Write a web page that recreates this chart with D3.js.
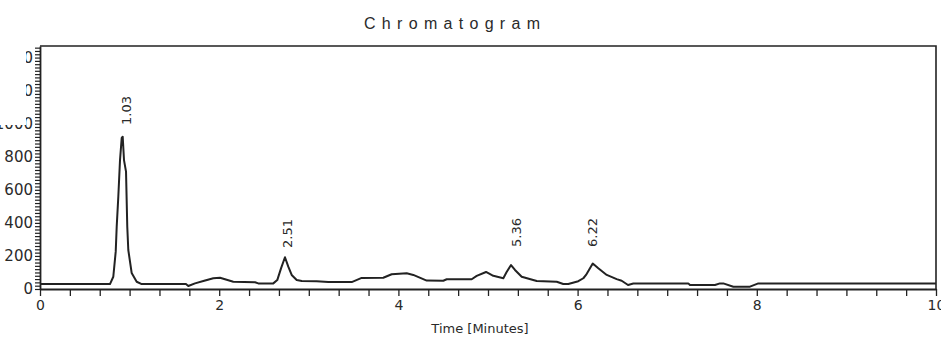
<!DOCTYPE html>
<html>
<head>
<meta charset="utf-8">
<script src="https://cdn.jsdelivr.net/npm/d3@7/dist/d3.min.js"></script>
<style>
  html, body { margin: 0; padding: 0; background: #fff; }
  svg { display: block; }
</style>
</head>
<body>
<svg id="chart" width="941" height="337"></svg>
<script>
// ---- data ----
const times = [0.000,0.725,0.781,0.818,0.845,0.856,0.874,0.893,0.912,0.923,0.9375,0.960,0.974,0.9855,1.023,1.079,1.135,
  1.629,1.655,1.730,1.823,1.934,2.009,2.065,2.157,2.400,2.436,2.604,2.648,2.690,2.734,2.771,2.809,2.865,2.921,3.088,3.218,
  3.479,3.590,3.831,3.925,4.093,4.166,4.316,4.501,4.539,4.818,4.874,4.978,5.059,5.171,5.208,5.257,5.301,5.376,5.544,5.767,
  5.840,5.896,6.008,6.064,6.094,6.169,6.231,6.325,6.436,6.492,6.563,6.622,7.235,7.254,7.533,7.589,7.626,7.738,7.924,8.017,10.000];
const intensity = [30,30,30,74,226,377,558,780,914,921,780,710,377,236,97,44,30,
  30,18,34,48,65,68,59,44,41,34,34,54,125,192,135,85,54,48,47,42,
  42,67,68,89,95,85,51,50,59,59,79,103,80,65,103,145,115,74,48,44,
  30,30,47,65,85,154,125,85,60,50,24,33,34,24,24,34,34,14,14,34,34];
const peakLabels = ["1.03","2.51","5.36","6.22"];
const peakLabelTimes = [0.96, 2.757, 5.313, 6.166];
const peakLabelValues = [992, 248, 254, 254];
const xTickValues = d3.range(0, 31).map(i => i / 3);
const xTickLabels = ["0","2","4","6","8","10"];
const yTickValues = d3.range(0, 1461, 20);
const yTickLabels = ["0","200","400","600","800","1000","1200","1400"];
const titleText = "Chromatogram";
const xTitle = "Time [Minutes]";

// ---- layout ----
const svg = d3.select("#chart");
const mLeft = 40, mRight = 936, mTop = 46, mBottom = 289;
const x = d3.scaleLinear().domain([0, 10]).range([mLeft, mRight]);
const y = d3.scaleLinear().domain([0, 1470]).range([mBottom, mTop]);
const ink = "#222";
const fontTicks = "'DejaVu Sans', sans-serif";

// frame (top + right)
svg.append("path")
  .attr("d", `M${mLeft},${mTop}H${mRight}V${mBottom}`)
  .attr("fill", "none").attr("stroke", ink).attr("stroke-width", 1.6);

// x axis
const xAxis = d3.axisBottom(x)
  .tickValues(xTickValues)
  .tickSize(7)
  .tickSizeOuter(0)
  .tickFormat((d, i) => (i % 6 === 0 ? xTickLabels[i / 6] : ""));
const gx = svg.append("g").attr("transform", `translate(0,${mBottom})`).call(xAxis);
gx.select(".domain").attr("stroke", ink).attr("stroke-width", 1.8);
gx.selectAll(".tick line").attr("stroke", ink).attr("stroke-width", 1.3);
gx.selectAll(".tick text").attr("font-family", fontTicks).attr("font-size", 14)
  .attr("fill", "#2a2a2a").attr("y", 11);

// y axis
const clip = svg.append("defs").append("clipPath").attr("id", "ylabClip");
clip.append("rect").attr("x", -100).attr("y", 125).attr("width", 300).attr("height", 300);
clip.append("rect").attr("x", 26).attr("y", 0).attr("width", 200).attr("height", 400);

const yAxis = d3.axisLeft(y)
  .tickValues(yTickValues)
  .tickSize(5)
  .tickSizeOuter(0)
  .tickFormat(d => (d % 200 === 0 ? yTickLabels[d / 200] : ""));
const gy = svg.append("g").attr("transform", `translate(${mLeft},0)`).call(yAxis);
gy.select(".domain").attr("stroke", ink).attr("stroke-width", 1.8);
gy.selectAll(".tick line").attr("stroke", ink).attr("stroke-width", 1.2);
gy.selectAll(".tick text")
  .attr("font-family", fontTicks).attr("font-size", 15)
  .attr("text-anchor", "end")
  .attr("fill", "#2a2a2a").attr("x", -7);
// the reference image is cropped: upper labels only partly visible
const labs = gy.selectAll(".tick text").nodes();
const labLayer = svg.append("g").attr("clip-path", "url(#ylabClip)");
labs.forEach(n => {
  const t = n.parentNode.getAttribute("transform");
  const g = labLayer.append("g").attr("transform", `translate(${mLeft},0) ${t}`);
  g.node().appendChild(n);
});

// trace
const pts = times.map((t, i) => [t, intensity[i]]);
svg.append("path")
  .datum(pts)
  .attr("fill", "none")
  .attr("stroke", ink)
  .attr("stroke-width", 2)
  .attr("stroke-linejoin", "round")
  .attr("d", d3.line().x(d => x(d[0])).y(d => y(d[1])));

// peak labels
peakLabels.forEach((lab, i) => {
  svg.append("text")
    .attr("transform", `translate(${x(peakLabelTimes[i])},${y(peakLabelValues[i])}) rotate(-90)`)
    .attr("dy", "0.36em")
    .attr("font-family", fontTicks)
    .attr("font-size", 13)
    .attr("fill", "#2a2a2a")
    .text(lab);
});

// title
svg.append("text")
  .attr("x", 364).attr("y", 29)
  .attr("font-family", "'Liberation Sans', Arial, sans-serif")
  .attr("font-size", 16)
  .attr("letter-spacing", 6.3)
  .attr("fill", "#2a2a2a")
  .text(titleText);

// x axis title
svg.append("text")
  .attr("x", 480).attr("y", 333)
  .attr("text-anchor", "middle")
  .attr("font-family", fontTicks)
  .attr("font-size", 13)
  .attr("fill", "#2a2a2a")
  .text(xTitle);
</script>
</body>
</html>
